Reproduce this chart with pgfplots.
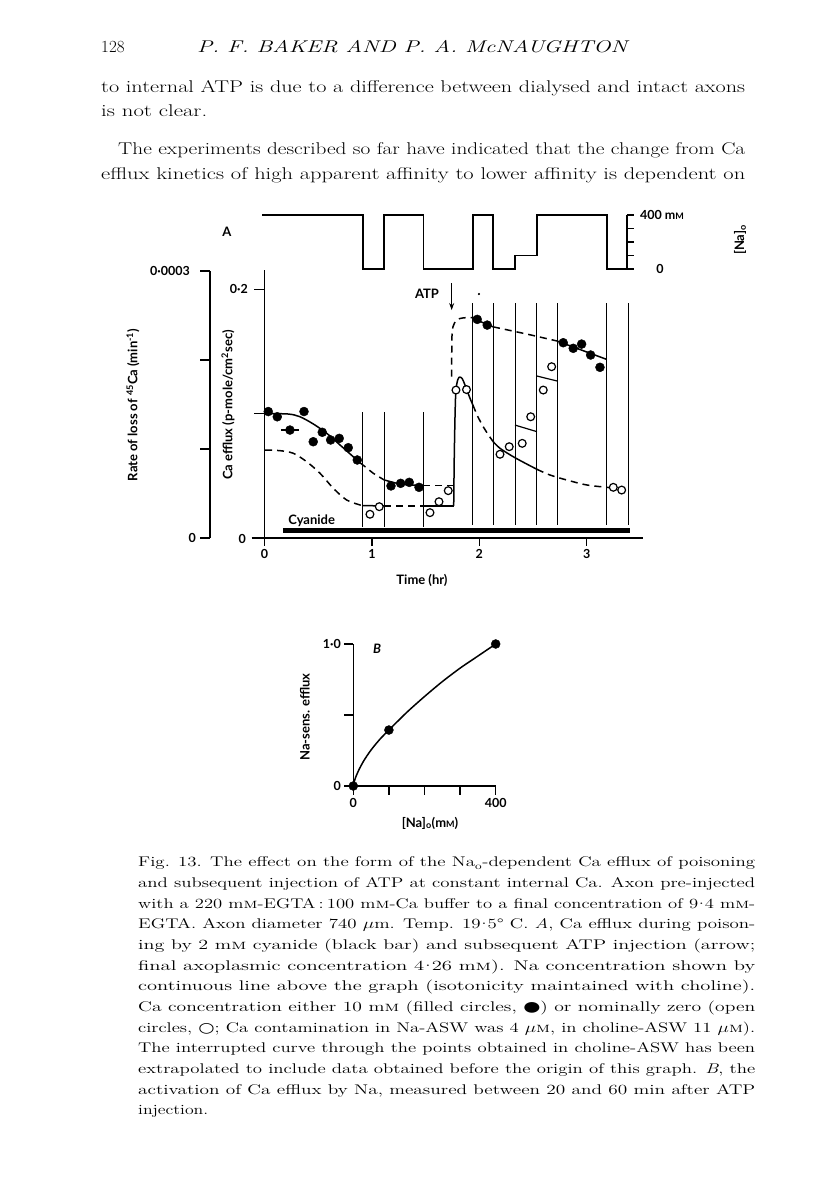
\documentclass[border=0pt]{standalone}
\usepackage{fontspec}
\usepackage{graphicx}
\usepackage{pgfplots}
\pgfplotsset{compat=1.18}
\usetikzlibrary{arrows.meta}
\newfontfamily\cf{Lato}
\newfontfamily\sym{DejaVu Sans}
\newcommand\ct{\cf\bfseries\fontsize{12.5}{14}\selectfont}
\newcommand\cl{\cf\bfseries\fontsize{13}{15}\selectfont}
\newcommand\mM{m\textsc{m}}
\newcommand\cd{\kern-0.2em·\kern-0.2em}
\newcommand\bodyline[4]{\node[anchor=base west,inner sep=0pt] at (#1pt,{(1195-#2)*1pt}) {\resizebox{#3pt}{\height}{\fontsize{17}{20}\selectfont\addfontfeature{FakeBold=0.6}#4}};}
\newcommand\capline[4]{\node[anchor=base west,inner sep=0pt] at (#1pt,{(1195-#2)*1pt}) {\resizebox{#3pt}{\height}{\fontsize{14}{16}\selectfont\addfontfeature{FakeBold=0.6}#4}};}
\begin{document}
\begin{tikzpicture}[x=1pt,y=1pt]
\fill[white] (0pt,0pt) rectangle (816pt,1195pt);
\useasboundingbox (0pt,0pt) rectangle (816pt,1195pt);
% ---------- page text ----------
\node[anchor=base west,inner sep=0pt] at (101pt,1142pt) {\fontsize{17}{20}\selectfont\addfontfeature{FakeBold=0.6}128};
\node[anchor=base west,inner sep=0pt] at (197pt,1142pt) {\resizebox{430pt}{\height}{\fontsize{17}{20}\selectfont\itshape\addfontfeature{FakeBold=0.6}P. F. BAKER AND P. A. McNAUGHTON}};
\bodyline{101}{93}{644}{to internal ATP is due to a difference between dialysed and intact axons}
\bodyline{101}{117}{106}{is not clear.}
\bodyline{118}{155}{627}{The experiments described so far have indicated that the change from Ca}
\bodyline{101}{180}{644}{efflux kinetics of high apparent affinity to lower affinity is dependent on}
% caption
\capline{138}{867}{617}{Fig. 13. The effect on the form of the Na\textsubscript{o}-dependent Ca efflux of poisoning}
\capline{138}{887.7}{617}{and subsequent injection of ATP at constant internal Ca. Axon pre-injected}
\capline{138}{908.3}{617}{with a 220 \mM-EGTA\,:\,100 \mM-Ca buffer to a final concentration of 9\cd4 \mM-}
\capline{138}{929}{617}{EGTA. Axon diameter 740 $\mu$m. Temp. 19\cd5° C. \textit{A}, Ca efflux during poison-}
\capline{138}{949.7}{617}{ing by 2 \mM\ cyanide (black bar) and subsequent ATP injection (arrow;}
\capline{138}{970.3}{617}{final axoplasmic concentration 4\cd26 \mM). Na concentration shown by}
\capline{138}{991}{617}{continuous line above the graph (isotonicity maintained with choline).}
\capline{138}{1011.7}{617}{Ca concentration either 10 \mM\ (filled circles, {\sym ●}) or nominally zero (open}
\capline{138}{1032.3}{617}{circles, {\sym ○}; Ca contamination in Na-ASW was 4 $\mu$\textsc{m}, in choline-ASW 11 $\mu$\textsc{m}).}
\capline{138}{1053}{617}{The interrupted curve through the points obtained in choline-ASW has been}
\capline{138}{1073.7}{617}{extrapolated to include data obtained before the origin of this graph. \textit{B}, the}
\capline{138}{1094.3}{617}{activation of Ca efflux by Na, measured between 20 and 60 min after ATP}
\capline{138}{1115}{70}{injection.}
% ---------- Na trace ----------
\begin{axis}[at={(251.6pt,926pt)}, anchor=south west, scale only axis, width=390.9pt, height=54pt,
  xmin=-0.12, xmax=3.52, ymin=0, ymax=400, axis lines=none, clip=false]
\addplot[const plot, line width=1.5pt] coordinates {(-0.02,400) (0.917,0) (1.113,400) (1.48,0) (1.941,400) (2.128,0) (2.333,100) (2.537,400) (3.189,0) (3.375,0)};
\draw[line width=1.4pt] (axis cs:3.375,0) -- (axis cs:3.375,400);
\draw[line width=1.3pt] (axis cs:3.375,0) -- ++(7pt,0pt);
\draw[line width=1.3pt] (axis cs:3.375,100) -- ++(7pt,0pt);
\draw[line width=1.3pt] (axis cs:3.375,200) -- ++(7pt,0pt);
\draw[line width=1.3pt] (axis cs:3.375,300) -- ++(7pt,0pt);
\draw[line width=1.3pt] (axis cs:3.375,400) -- ++(7pt,0pt);
\end{axis}
% ---------- outer left axis ----------
\begin{axis}[at={(210pt,657pt)}, anchor=south west, scale only axis, width=1pt, height=267pt,
  xmin=0, xmax=1, ymin=0, ymax=0.0003, axis x line=none, axis y line=left,
  axis line style={-, line width=1.4pt}, ytick={0,0.0001,0.0002,0.0003}, yticklabels={},
  scaled y ticks=false, ytick align=outside, major tick length=10pt, tick style={black, line width=1.3pt}]
\addplot[draw=none] coordinates {(0,0)};
\end{axis}
% ---------- main axis A ----------
\begin{axis}[at={(251.6pt,657pt)}, anchor=south west, scale only axis, width=390.9pt, height=268.3pt,
  xmin=-0.12, xmax=3.52, ymin=0, ymax=0.216, clip=false,
  axis x line=bottom, axis y line=none, axis line style={-, line width=1.4pt},
  xtick={0,1,2,3}, xticklabels={0,1,2,3}, ytick=\empty,
  xtick align=outside, major tick length=8pt, tick style={black, line width=1.3pt},
  xticklabel style={font=\ct}]
% y axis
\draw[line width=1.4pt] (axis cs:0,-0.006) -- (axis cs:0,0.216);
\draw[line width=1.3pt] (axis cs:0,0.2) -- ++(-10pt,0pt);
\draw[line width=1.3pt] (axis cs:0,0.1) -- ++(-10pt,0pt);
% vertical solution-change lines
\addplot[line width=1pt] coordinates {(0.917,0.1014) (0.917,0.0089)};
\addplot[line width=1pt] coordinates {(1.113,0.1014) (1.113,0.0089)};
\addplot[line width=1pt] coordinates {(1.48,0.1014) (1.48,0.0089)};
\addplot[line width=1pt] coordinates {(1.941,0.1891) (1.941,0.0105)};
\addplot[line width=1pt] coordinates {(2.128,0.1891) (2.128,0.0105)};
\addplot[line width=1pt] coordinates {(2.333,0.1891) (2.333,0.0105)};
\addplot[line width=1pt] coordinates {(2.537,0.1891) (2.537,0.0105)};
\addplot[line width=1pt] coordinates {(2.724,0.1891) (2.724,0.0105)};
\addplot[line width=1pt] coordinates {(3.189,0.1891) (3.189,0.0105)};
\addplot[line width=1pt] coordinates {(3.394,0.1891) (3.394,0.0105)};
% cyanide bar
\addplot[line width=5pt] coordinates {(0.172,0.0059) (3.404,0.0059)};
% upper (10 mM Ca) curve
\addplot[smooth, line width=1.5pt] coordinates {(0,0.1002) (0.2216,0.0998) (0.3305,0.0976) (0.4544,0.0918) (0.5791,0.0843) (0.7030,0.0749) (0.8268,0.0654) (0.8892,0.0606)};
\addplot[smooth, line width=1.5pt, dash pattern=on 7pt off 5pt] coordinates {(0.8892,0.0606) (0.95,0.0565) (1.013,0.0521) (1.113,0.0468)};
\addplot[smooth, line width=1.5pt] coordinates {(1.113,0.0468) (1.262,0.0435) (1.417,0.0424) (1.48,0.0424)};
\addplot[line width=1.5pt, dash pattern=on 7pt off 5pt] coordinates {(1.48,0.0424) (1.758,0.0424)};
\addplot[smooth, line width=1.5pt, dash pattern=on 7pt off 5pt] coordinates {(1.743,0.130) (1.745,0.160) (1.755,0.170) (1.79,0.1755) (1.85,0.1772) (1.941,0.1774)};
\addplot[line width=1.5pt] coordinates {(1.941,0.1774) (2.03,0.1735) (2.128,0.1700)};
\addplot[smooth, line width=1.5pt, dash pattern=on 7pt off 5pt] coordinates {(2.128,0.1700) (2.441,0.1642) (2.724,0.1586)};
\addplot[line width=1.5pt] coordinates {(2.724,0.1586) (3.186,0.1438)};
% lower (zero Ca) curve
\addplot[smooth, line width=1.5pt, dash pattern=on 7pt off 5pt] coordinates {(0.005,0.0708) (0.144,0.0703) (0.268,0.0682) (0.393,0.0614) (0.517,0.0521) (0.641,0.0400) (0.765,0.0306) (0.889,0.0266) (0.917,0.0261)};
\addplot[line width=1.5pt] coordinates {(0.917,0.0261) (1.113,0.0258)};
\addplot[line width=1.5pt, dash pattern=on 7pt off 5pt] coordinates {(1.113,0.0258) (1.48,0.0258)};
\addplot[line width=1.5pt] coordinates {(1.48,0.0258) (1.762,0.0258)};
\addplot[smooth, line width=1.5pt] coordinates {(1.762,0.0258) (1.768,0.07) (1.78,0.115) (1.80,0.1275) (1.82,0.1295) (1.842,0.1282) (1.867,0.1231) (1.914,0.1124) (1.941,0.107)};
\addplot[smooth, line width=1.5pt, dash pattern=on 7pt off 5pt] coordinates {(1.941,0.107) (1.985,0.098) (2.037,0.0896) (2.085,0.083) (2.128,0.0777)};
\addplot[smooth, line width=1.5pt] coordinates {(2.128,0.0777) (2.193,0.0722) (2.317,0.0654) (2.441,0.0596) (2.537,0.0553)};
\addplot[smooth, line width=1.5pt, dash pattern=on 7pt off 5pt] coordinates {(2.537,0.0553) (2.658,0.0507) (2.814,0.0467) (3.0,0.0427) (3.186,0.0408) (3.372,0.0392)};
% short rate segments
\addplot[line width=1.2pt] coordinates {(2.333,0.0909) (2.537,0.0856)};
\addplot[line width=1.2pt] coordinates {(2.537,0.1304) (2.724,0.1264)};
% filled circles
\addplot[only marks, mark=*, mark size=4.5pt] coordinates {(0.035,0.1018) (0.119,0.0976) (0.368,0.1018) (0.454,0.0775) (0.538,0.0851) (0.616,0.0789) (0.696,0.0802) (0.780,0.0727) (0.864,0.0628) (1.178,0.0419) (1.268,0.0440) (1.348,0.0448) (1.439,0.0408) (1.981,0.1760) (2.074,0.1714) (2.782,0.1572) (2.875,0.1527) (2.953,0.1561) (3.037,0.1473) (3.124,0.1374)};
\addplot[only marks, mark=*, mark size=4.5pt, error bars/.cd, x dir=both, x explicit, error mark=none, error bar style={line width=1.4pt}] coordinates {(0.237,0.0869) +- (0.086,0)};
% open circles
\addplot[only marks, mark=*, mark size=3.9pt, line width=1.2pt, mark options={fill=white, draw=black}] coordinates {(0.982,0.0191) (1.069,0.0252) (1.541,0.0204) (1.625,0.0292) (1.711,0.0381) (1.783,0.1191) (1.881,0.1195) (2.193,0.0674) (2.279,0.0735) (2.400,0.0762) (2.479,0.0976) (2.596,0.1191) (2.674,0.1379) (3.248,0.0408) (3.326,0.0386)};
% small speck to the right of the arrow
\addplot[only marks, mark=*, mark size=0.9pt] coordinates {(1.997,0.1964)};
% ATP arrow
\draw[line width=1.3pt, -{Stealth[length=7pt,width=5pt]}] (axis cs:1.743,0.2052) -- (axis cs:1.743,0.1835);
\end{axis}
% ---------- panel B ----------
\begin{axis}[at={(353.3pt,409pt)}, anchor=south west, scale only axis, width=142.4pt, height=142pt,
  xmin=0, xmax=400, ymin=0, ymax=1, clip=false,
  axis lines=left, axis line style={-, line width=1.4pt},
  tick align=outside, major tick length=9pt, tick style={black, line width=1.3pt},
  xtick={0,100,200,300,400}, xticklabels={0,,,,400},
  ytick={0,0.5,1}, yticklabels={0,,1·0},
  ticklabel style={font=\ct}]
\addplot[smooth, line width=1.5pt] coordinates {(0,0) (5,0.05) (15,0.11) (30,0.18) (50,0.254) (75,0.33) (100,0.394) (150,0.518) (200,0.63) (250,0.735) (300,0.83) (350,0.915) (400,1.0)};
\addplot[only marks, mark=*, mark size=4.5pt] coordinates {(0,0) (100,0.394) (400,1.0)};
\end{axis}
% ---------- chart labels ----------
\node[font=\ct, anchor=east, inner sep=0pt] at (248pt,906pt) {0·2};
\node[font=\ct, anchor=east, inner sep=0pt] at (246pt,656pt) {0};
\node[font=\ct, anchor=east, inner sep=0pt] at (190pt,924pt) {0·0003};
\node[font=\ct, anchor=east, inner sep=0pt] at (196pt,657pt) {0};
\node[font=\cl, rotate=90] at (228pt,790pt) {Ca efflux (p-mole/cm\textsuperscript{2}sec)};
\node[font=\cl, rotate=90] at (133pt,790pt) {Rate of loss of \textsuperscript{45}Ca (min\textsuperscript{-1})};
\node[font=\cl] at (422pt,615pt) {Time (hr)};
\node[font=\cl] at (311.7pt,674pt) {Cyanide};
\node[font=\cl] at (427pt,901pt) {ATP};
\node[font=\cl] at (227pt,963pt) {A};
\node[font=\ct, anchor=west, inner sep=0pt] at (640pt,980pt) {400 m{\fontsize{9}{9}\selectfont M}};
\node[font=\ct] at (660pt,926pt) {0};
\node[font=\cl, rotate=90] at (740pt,955pt) {[Na]\textsubscript{o}};
\node[font=\cl\itshape] at (377pt,546pt) {B};
\node[font=\cl, rotate=90] at (305pt,478pt) {Na-sens. efflux};
\node[font=\cl] at (430pt,372pt) {[Na]\textsubscript{o}(m{\fontsize{9}{9}\selectfont M})};
\end{tikzpicture}
\end{document}
